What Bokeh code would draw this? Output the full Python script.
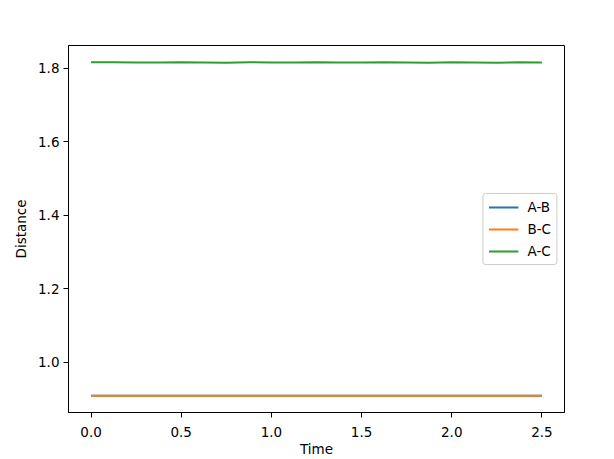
from bokeh.plotting import figure
from bokeh.models import FixedTicker, PrintfTickFormatter, Legend, LegendItem, Range1d
from bokeh.embed import file_html
from bokeh.resources import INLINE

time = [0.0, 0.125, 0.25, 0.375, 0.5, 0.625, 0.75, 0.875, 1.0, 1.125, 1.25,
        1.375, 1.5, 1.625, 1.75, 1.875, 2.0, 2.125, 2.25, 2.375, 2.5]
dist_ab = [0.9085, 0.9083, 0.9084, 0.9086, 0.9083, 0.9085, 0.9084, 0.9083, 0.9086, 0.9084, 0.9083,
           0.9085, 0.9084, 0.9083, 0.9086, 0.9084, 0.9083, 0.9085, 0.9084, 0.9083, 0.9085]
dist_bc = [0.9085, 0.9084, 0.9083, 0.9085, 0.9086, 0.9083, 0.9084, 0.9086, 0.9083, 0.9085, 0.9084,
           0.9083, 0.9086, 0.9084, 0.9083, 0.9085, 0.9086, 0.9083, 0.9084, 0.9085, 0.9083]
dist_ac = [1.8165, 1.8168, 1.8163, 1.8158, 1.8166, 1.8162, 1.8157, 1.8166, 1.8163, 1.8158, 1.8167,
           1.8162, 1.8158, 1.8166, 1.8164, 1.8157, 1.8165, 1.8163, 1.8157, 1.8166, 1.8163]

series = [("A-B", dist_ab, "#1f77b4"), ("B-C", dist_bc, "#ff7f0e"), ("A-C", dist_ac, "#2ca02c")]
x_ticks = [0.0, 0.5, 1.0, 1.5, 2.0, 2.5]
y_ticks = [1.0, 1.2, 1.4, 1.6, 1.8]

FONT = "DejaVu Sans"

p = figure(width=614, height=459, output_backend="svg", toolbar_location=None,
           x_range=Range1d(-0.125, 2.625), y_range=Range1d(0.8627, 1.8624),
           min_border_left=68, min_border_right=50, min_border_top=45, min_border_bottom=46)

items = []
for name, vals, col in series:
    r = p.line(time, vals, line_color=col, line_width=2)
    items.append(LegendItem(label=name, renderers=[r]))

p.xgrid.visible = False
p.ygrid.visible = False
p.outline_line_color = "black"
p.outline_line_width = 1
p.outline_line_alpha = 1

for ax in (p.xaxis, p.yaxis):
    ax.axis_line_color = "black"
    ax.major_tick_line_color = "black"
    ax.major_tick_in = 0
    ax.major_tick_out = 5
    ax.minor_tick_line_color = None
    ax.major_label_text_font = FONT
    ax.major_label_text_font_size = "13.5px"
    ax.major_label_text_color = "black"
    ax.axis_label_text_font = FONT
    ax.axis_label_text_font_size = "13.5px"
    ax.axis_label_text_font_style = "normal"
    ax.axis_label_text_color = "black"
    ax.formatter = PrintfTickFormatter(format="%.1f")

p.xaxis.ticker = FixedTicker(ticks=x_ticks)
p.yaxis.ticker = FixedTicker(ticks=y_ticks)
p.xaxis.axis_label = "Time"
p.yaxis.axis_label = "Distance"
p.xaxis.major_label_standoff = 9
p.xaxis.axis_label_standoff = 1
p.yaxis.major_label_standoff = 4
p.yaxis.axis_label_standoff = 6

legend = Legend(items=items, location="center_right", margin=7,
                label_text_font=FONT, label_text_font_size="13.5px", label_text_color="black",
                glyph_width=30, glyph_height=14, spacing=6, padding=5,
                label_standoff=9, border_line_color="#cccccc", border_line_alpha=1,
                background_fill_alpha=0.8, border_radius=3)
p.add_layout(legend)

open("out.html", "w").write(file_html(p, INLINE))
